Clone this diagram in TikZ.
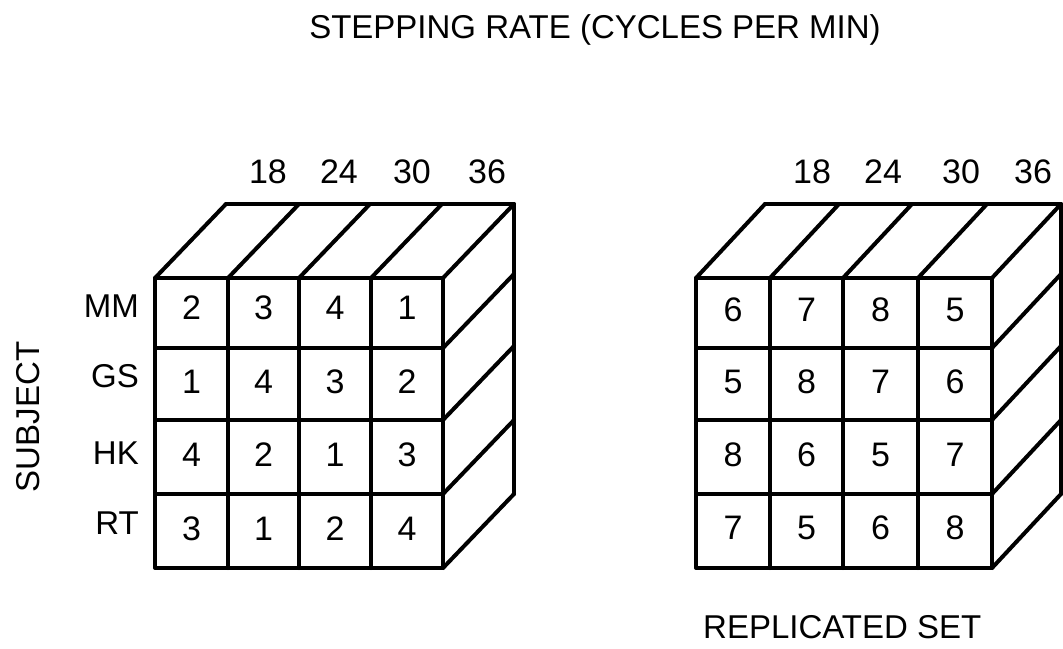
\documentclass[tikz,border=0pt]{standalone}
\usepackage{fontspec}
\setmainfont{Liberation Sans}
\begin{document}
\begin{tikzpicture}[x=1pt,y=-1pt,
  edge/.style={line width=4pt, line cap=round, line join=round},
  lbl/.style={font=\fontsize{33}{36}\selectfont, inner sep=0pt},
  num/.style={font=\fontsize{34}{36}\selectfont, inner sep=0pt, anchor=base}]
\useasboundingbox (0,0) rectangle (1063,648);

% title and axis labels
\node[lbl, anchor=base] (title) at (595,38) {STEPPING RATE (CYCLES PER MIN)};
\node[lbl, rotate=90, anchor=center] (subject) at (28,417) {SUBJECT};
\node[lbl, anchor=base west] (repl) at (703,638) {REPLICATED SET};

% row labels
\node[lbl, anchor=base east] (rMM) at (139,317) {MM};
\node[lbl, anchor=base east] (rGS) at (139,387) {GS};
\node[lbl, anchor=base east] (rHK) at (139,464) {HK};
\node[lbl, anchor=base east] (rRT) at (139,534) {RT};

% column labels
\foreach \x/\t [count=\i] in {268/18,339/24,412/30,487/36}
  \node[num] (cl\i) at (\x,183) {\t};
\foreach \x/\t [count=\i] in {812/18,883/24,961/30,1033/36}
  \node[num] (cr\i) at (\x,183) {\t};

% left cube
\draw[edge] (155,278) rectangle (443,568);
\foreach \x in {228,299,371} \draw[edge] (\x,278) -- (\x,568);
\foreach \y in {348,420,494} \draw[edge] (155,\y) -- (443,\y);
\foreach \x in {155,228,299,371,443} \draw[edge] (\x,278) -- ++(71,-74);
\foreach \y in {348,420,494,568} \draw[edge] (443,\y) -- ++(71,-74);
\draw[edge] (226,204) -- (514,204) -- (514,494);

% right cube
\draw[edge] (696,278) rectangle (992,568);
\foreach \x in {770,843,918} \draw[edge] (\x,278) -- (\x,568);
\foreach \y in {348,420,494} \draw[edge] (696,\y) -- (992,\y);
\foreach \x in {696,770,843,918,992} \draw[edge] (\x,278) -- ++(69,-74);
\foreach \y in {348,420,494,568} \draw[edge] (992,\y) -- ++(69,-74);
\draw[edge] (765,204) -- (1061,204) -- (1061,494);

% cell numbers, left
\foreach \y/\a/\b/\c/\d [count=\r] in {319/2/3/4/1, 393/1/4/3/2, 466/4/2/1/3, 540/3/1/2/4}{
  \node[num] (L\r-1) at (191.5,\y) {\a};
  \node[num] (L\r-2) at (263.5,\y) {\b};
  \node[num] (L\r-3) at (335,\y) {\c};
  \node[num] (L\r-4) at (407,\y) {\d};
}
% cell numbers, right
\foreach \y/\a/\b/\c/\d [count=\r] in {321/6/7/8/5, 393/5/8/7/6, 466/8/6/5/7, 539/7/5/6/8}{
  \node[num] (R\r-1) at (733,\y) {\a};
  \node[num] (R\r-2) at (806.5,\y) {\b};
  \node[num] (R\r-3) at (880.5,\y) {\c};
  \node[num] (R\r-4) at (955,\y) {\d};
}
\end{tikzpicture}
\end{document}
